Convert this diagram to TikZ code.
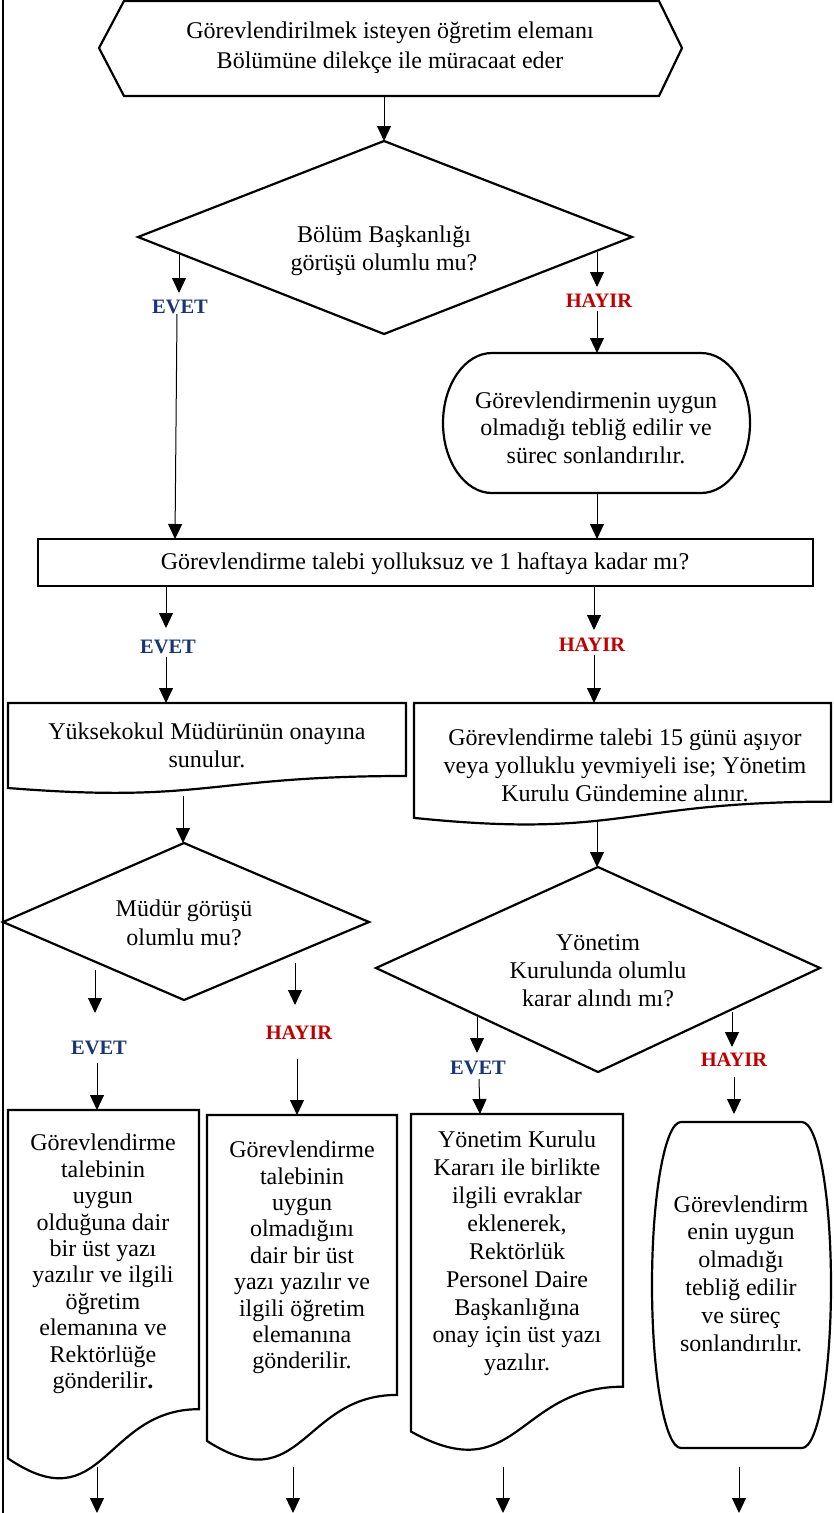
\documentclass[tikz,border=0pt]{standalone}
\usepackage{fontspec}
\setmainfont{Liberation Serif}
\usetikzlibrary{arrows.meta}
\definecolor{evetblue}{RGB}{24,54,116}
\definecolor{hayirred}{RGB}{192,0,0}
\newcommand\mytxt[1]{\fontsize{24}{#1}\selectfont}
% document shape: x y w h
\newcommand\docshape[4]{\draw[shp] (#1,#2) -- ({#1+#3},#2) -- ({#1+#3},{#2+0.802*#4}) .. controls ({#1+0.5*#3},{#2+0.802*#4}) and ({#1+0.5*#3},{#2+1.1075*#4}) .. (#1,{#2+0.934*#4}) -- cycle;}
% terminator shape: x y w h rx
\newcommand\termshape[5]{\draw[shp] ({#1+#5},#2) -- ({#1+#3-#5},#2) arc[start angle=-90,end angle=90,x radius=#5,y radius={#4/2}] -- ({#1+#5},{#2+#4}) arc[start angle=90,end angle=270,x radius=#5,y radius={#4/2}] -- cycle;}
\tikzset{
  shp/.style={draw=black, line width=2.2pt, line join=miter},
  conn/.style={draw=black, line width=1pt, -{Triangle[width=14pt,length=15pt]}},
  plain/.style={draw=black, line width=1pt},
  txt/.style={align=center, inner sep=0pt},
  evet/.style={inner sep=0pt, text=evetblue, font=\fontsize{20.5}{24}\selectfont\bfseries},
  hayir/.style={inner sep=0pt, text=hayirred, font=\fontsize{20.5}{24}\selectfont\bfseries},
}
\begin{document}
\begin{tikzpicture}[x=1pt,y=-1pt]
\useasboundingbox (0,0) rectangle (833,1513);
% left border
\draw[line width=2pt] (3,0) -- (3,1513);

% start hexagon
\draw[shp] (124,1) -- (659,1) -- (682,48) -- (659,96) -- (124,96) -- (99,48) -- cycle;
\node[txt, font=\mytxt{30}] (hext) at (390,48) {Görevlendirilmek isteyen öğretim elemanı\\Bölümüne dilekçe ile müracaat eder};

% decision 1
\draw[shp] (384,141) -- (632,237) -- (384,334) -- (138,237) -- cycle;
\node[txt, font=\mytxt{28}] (d1t) at (384,251) {Bölüm Başkanlığı\\görüşü olumlu mu?};

% terminal 1
\termshape{443}{353}{307}{140}{49}
\node[txt, font=\mytxt{27.5}] (t1t) at (596,427.5) {Görevlendirmenin uygun\\olmadığı tebliğ edilir ve\\sürec sonlandırılır.};

% process rect
\draw[shp] (38,539) rectangle (813,586);
\node[txt, font=\mytxt{28}] (rt) at (425,564) {Görevlendirme talebi yolluksuz ve 1 haftaya kadar mı?};

% documents row 1
\docshape{8}{703}{398}{91}
\node[txt, font=\mytxt{28}] (dlt) at (207,745) {Yüksekokul Müdürünün onayına\\sunulur.};
\docshape{414}{703}{417}{123}
\node[txt, font=\mytxt{28}] (drt) at (625,765) {Görevlendirme talebi 15 günü aşıyor\\veya yolluklu yevmiyeli ise; Yönetim\\Kurulu Gündemine alınır.};

% decision 2
\draw[shp] (184,843) -- (369,922) -- (184,1000) -- (3,922) -- cycle;
\node[txt, font=\mytxt{29}] (d2t) at (184,922.5) {Müdür görüşü\\olumlu mu?};

% decision 3
\draw[shp] (598,867) -- (820,968) -- (598,1072) -- (376,968) -- cycle;
\node[txt, font=\mytxt{28}] (d3t) at (598,971) {Yönetim\\Kurulunda olumlu\\karar alındı mı?};

% bottom documents
\docshape{8}{1110}{191}{373}
\node[txt, font=\mytxt{26.4}] (dat) at (103,1264) {Görevlendirme\\talebinin\\uygun\\olduğuna dair\\bir üst yazı\\yazılır ve ilgili\\öğretim\\elemanına ve\\Rektörlüğe\\gönderilir\textbf{.}};
\docshape{207}{1115}{190}{349}
\node[txt, font=\mytxt{26.4}] (dbt) at (302,1257.5) {Görevlendirme\\talebinin\\uygun\\olmadığını\\dair bir üst\\yazı yazılır ve\\ilgili öğretim\\elemanına\\gönderilir.};
\docshape{411}{1114}{212}{340}
\node[txt, font=\mytxt{27.9}] (dct) at (517,1253.5) {Yönetim Kurulu\\Kararı ile birlikte\\ilgili evraklar\\eklenerek,\\Rektörlük\\Personel Daire\\Başkanlığına\\onay için üst yazı\\yazılır.};
\termshape{652}{1122}{179}{326}{29}
\node[txt, font=\mytxt{27.8}] (ddt) at (741,1273.5) {Görevlendirm\\enin uygun\\olmadığı\\tebliğ edilir\\ve süreç\\sonlandırılır.};

% labels
\node[evet] (e1) at (180,307) {EVET};
\node[hayir] (h1) at (599,301) {HAYIR};
\node[evet] (e2) at (168,647) {EVET};
\node[hayir] (h2) at (592,645) {HAYIR};
\node[evet] (e3) at (99,1048) {EVET};
\node[hayir] (h3) at (299,1033) {HAYIR};
\node[evet] (e4) at (478,1068) {EVET};
\node[hayir] (h4) at (734,1060) {HAYIR};

% connector end points
\coordinate (hexB) at (384,97);   \coordinate (d1T) at (384,141);
\coordinate (a1s) at (179,252);   \coordinate (a1e) at (179,293);
\coordinate (a2s) at (177,314);   \coordinate (a2e) at (175,539);
\coordinate (b1s) at (597,252);   \coordinate (b1e) at (597,287);
\coordinate (b2s) at (597,311);   \coordinate (b2e) at (597,353);
\coordinate (t1B) at (597,493);   \coordinate (rT) at (597,539);
\coordinate (a3s) at (166,587);   \coordinate (a3e) at (166,628);
\coordinate (a4s) at (166,657);   \coordinate (a4e) at (166,703);
\coordinate (b3s) at (594,587);   \coordinate (b3e) at (594,630);
\coordinate (b4s) at (594,655);   \coordinate (b4e) at (594,703);
\coordinate (dlB) at (183,796);   \coordinate (d2T) at (183,843);
\coordinate (drB) at (597,822);   \coordinate (d3T) at (597,867);
\coordinate (a5s) at (95,970);    \coordinate (a5e) at (95,1013);
\coordinate (a6s) at (97,1063);   \coordinate (a6e) at (97,1110);
\coordinate (b5s) at (295,963);   \coordinate (b5e) at (295,1005);
\coordinate (b6s) at (297,1059);  \coordinate (b6e) at (297,1115);
\coordinate (a7s) at (477,1017);  \coordinate (a7e) at (477,1053);
\coordinate (a8s) at (479,1079);  \coordinate (a8e) at (480,1114);
\coordinate (b7s) at (732,1012);  \coordinate (b7e) at (732,1047);
\coordinate (b8s) at (734,1077);  \coordinate (b8e) at (734,1114);
\coordinate (o1s) at (97,1467);   \coordinate (o1e) at (97,1513);
\coordinate (o2s) at (293,1467);  \coordinate (o2e) at (293,1513);
\coordinate (o3s) at (503,1467);  \coordinate (o3e) at (503,1513);
\coordinate (o4s) at (739,1467);  \coordinate (o4e) at (739,1513);

% connectors
\draw[conn] (hexB) -- (d1T);
\draw[conn] (a1s) -- (a1e);
\draw[conn] (a2s) -- (a2e);
\draw[conn] (b1s) -- (b1e);
\draw[conn] (b2s) -- (b2e);
\draw[conn] (t1B) -- (rT);
\draw[conn] (a3s) -- (a3e);
\draw[conn] (a4s) -- (a4e);
\draw[conn] (b3s) -- (b3e);
\draw[conn] (b4s) -- (b4e);
\draw[conn] (dlB) -- (d2T);
\draw[conn] (drB) -- (d3T);
\draw[conn] (a5s) -- (a5e);
\draw[conn] (a6s) -- (a6e);
\draw[conn] (b5s) -- (b5e);
\draw[conn] (b6s) -- (b6e);
\draw[conn] (a7s) -- (a7e);
\draw[conn] (a8s) -- (a8e);
\draw[conn] (b7s) -- (b7e);
\draw[conn] (b8s) -- (b8e);
\draw[conn] (o1s) -- (o1e);
\draw[conn] (o2s) -- (o2e);
\draw[conn] (o3s) -- (o3e);
\draw[conn] (o4s) -- (o4e);
\end{tikzpicture}
\end{document}
